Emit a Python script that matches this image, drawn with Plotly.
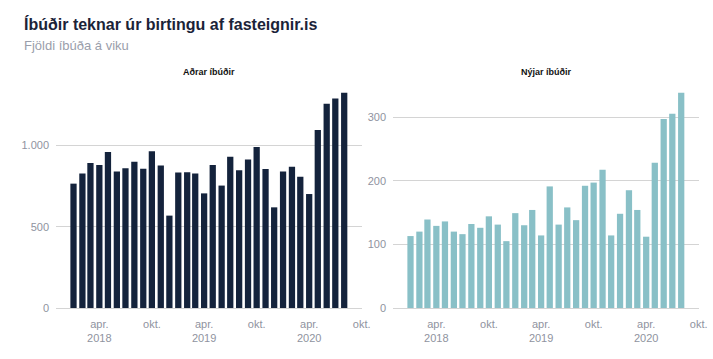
import plotly.graph_objects as go
import pandas as pd

# Categories: months Jan 2018 – Aug 2020
months = pd.date_range("2018-01-01", periods=32, freq="MS").strftime("%Y-%m-%d").tolist()

# Series values
adrar_ibudir = [766, 828, 893, 881, 961, 840, 860, 901, 858, 965, 877, 569,
                834, 836, 829, 706, 881, 754, 932, 848, 914, 991, 856, 620,
                840, 870, 809, 702, 1096, 1258, 1291, 1326]
nyjar_ibudir = [113, 120, 139, 129, 136, 120, 116, 132, 126, 144, 131, 105,
                149, 130, 154, 114, 191, 131, 158, 138, 192, 197, 217, 114,
                148, 185, 154, 112, 228, 297, 305, 338]

# Tick labels
tick_dates = ["2018-04-01", "2018-10-01", "2019-04-01", "2019-10-01", "2020-04-01", "2020-10-01"]
tick_text = ["apr.<br>2018", "okt.", "apr.<br>2019", "okt.", "apr.<br>2020", "okt."]

title_text = "Íbúðir teknar úr birtingu af fasteignir.is"
subtitle_text = "Fjöldi íbúða á viku"
panel_titles = ["Aðrar íbúðir", "Nýjar íbúðir"]

FONT = "Liberation Sans, Arial, sans-serif"
GRID = "#d4d4d4"
TICKC = "#8f93a0"

W, H = 713, 359
PLOT_TOP, PLOT_BOT = 82, 308
MT, MB = PLOT_TOP, H - PLOT_BOT
PH = PLOT_BOT - PLOT_TOP


def px(xpage):
    return xpage / W


def py(ypage):
    return (PLOT_BOT - ypage) / PH


fig = go.Figure()
fig.add_trace(go.Bar(x=months, y=adrar_ibudir, marker_color="#14233c",
                     marker_line_width=0, xaxis="x", yaxis="y", showlegend=False))
fig.add_trace(go.Bar(x=months, y=nyjar_ibudir, marker_color="#89c0c7",
                     marker_line_width=0, xaxis="x2", yaxis="y2", showlegend=False))

xcommon = dict(type="date", range=["2017-11-01", "2020-10-02"], tickmode="array",
               tickvals=tick_dates, ticktext=tick_text, showgrid=False, zeroline=False,
               showline=False, ticks="", ticklabelstandoff=8, automargin=False,
               tickfont=dict(family=FONT, size=11, color=TICKC))
ycommon = dict(showgrid=True, gridcolor=GRID, gridwidth=1, zeroline=True,
               zerolinecolor=GRID, zerolinewidth=1, showline=False, ticks="",
               separatethousands=True, automargin=False,
               tickfont=dict(family=FONT, size=11, color=TICKC), ticklabelstandoff=6)

fig.update_layout(
    width=W, height=H,
    margin=dict(l=0, r=0, t=MT, b=MB, autoexpand=False),
    paper_bgcolor="white", plot_bgcolor="white",
    separators=",.",
    bargap=0.22,
    xaxis=dict(domain=[px(56), px(362)], anchor="y", **xcommon),
    xaxis2=dict(domain=[px(393), px(699)], anchor="y2", **xcommon),
    yaxis=dict(anchor="x", range=[0, 1392], tickvals=[0, 500, 1000], **ycommon),
    yaxis2=dict(anchor="x2", range=[0, 355], tickvals=[0, 100, 200, 300], **ycommon),
    annotations=[
        dict(text="<b>" + title_text + "</b>", x=px(22), y=py(24), xref="paper", yref="paper",
             xanchor="left", yanchor="middle", showarrow=False,
             font=dict(family=FONT, size=16, color="#1b2338")),
        dict(text=subtitle_text, x=px(22), y=py(46), xref="paper", yref="paper",
             xanchor="left", yanchor="middle", showarrow=False,
             font=dict(family=FONT, size=13, color="#9a9eab")),
        dict(text="<b>" + panel_titles[0] + "</b>", x=px((56 + 362) / 2), y=py(72),
             xref="paper", yref="paper", xanchor="center", yanchor="middle", showarrow=False,
             font=dict(family=FONT, size=9, color="#111111")),
        dict(text="<b>" + panel_titles[1] + "</b>", x=px((393 + 699) / 2), y=py(72),
             xref="paper", yref="paper", xanchor="center", yanchor="middle", showarrow=False,
             font=dict(family=FONT, size=9, color="#111111")),
    ],
)

# remove the browser's default 8px page margin so the figure sits at the page origin
fig.write_html("out.html", config={"displayModeBar": False},
               post_script="document.body.style.margin='0px';")
